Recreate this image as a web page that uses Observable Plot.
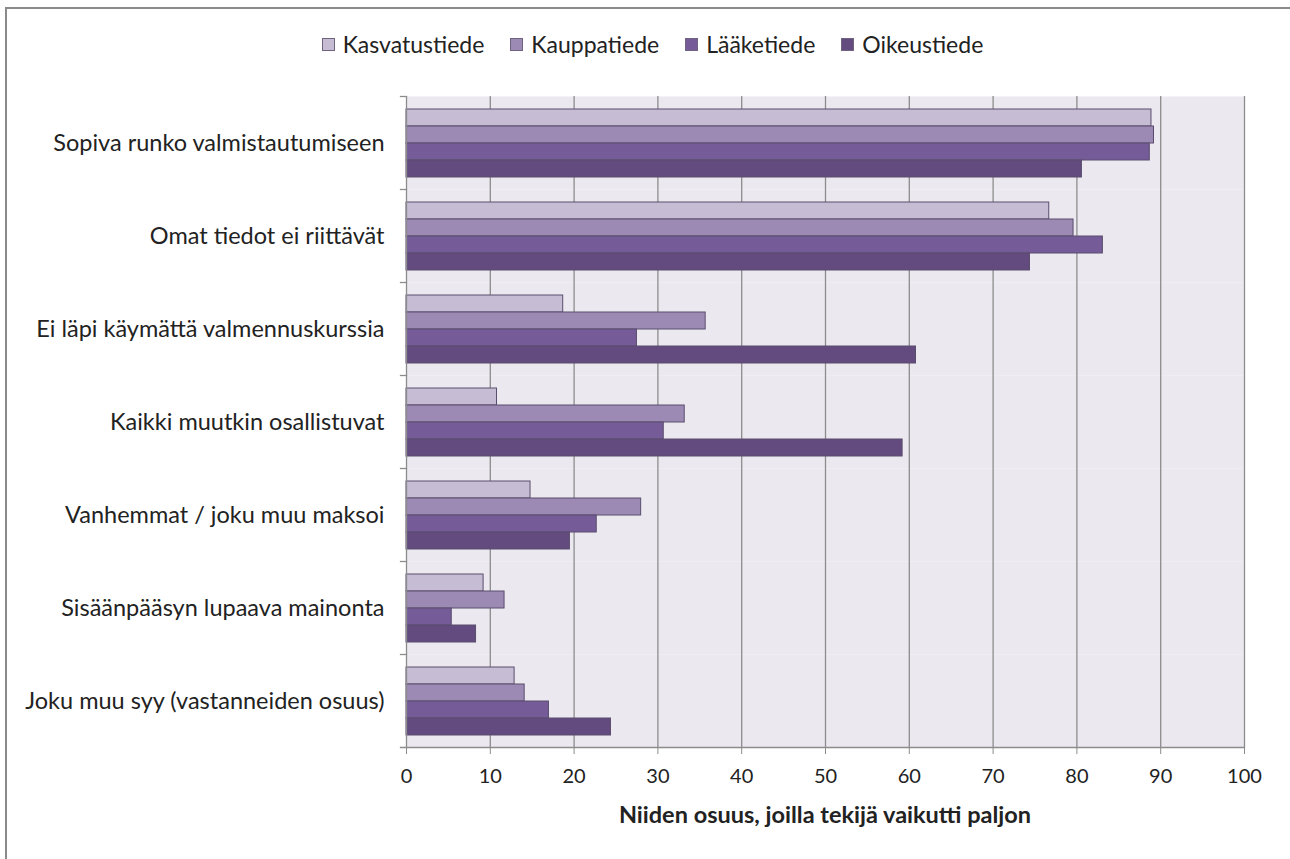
<!DOCTYPE html>
<html>
<head>
<meta charset="utf-8">
<script src="https://cdn.jsdelivr.net/npm/d3@7"></script>
<script src="https://cdn.jsdelivr.net/npm/@observablehq/plot@0.6"></script>
<style>
  html, body { margin: 0; padding: 0; background: #fff; }
  #wrap { position: relative; width: 1290px; height: 859px; overflow: hidden; font-family: Lato, "Open Sans", sans-serif; color: #222; }
  #border { position: absolute; left: 5px; top: 7px; width: 1300px; height: 870px; border-left: 2px solid #8a8a8a; border-top: 2px solid #8a8a8a; }
  #legend { position: absolute; top: 30px; left: 0; width: 1305px; display: flex; justify-content: center; gap: 26px; font-size: 23px; }
  #legend .item { display: flex; align-items: center; gap: 8px; }
  #legend .sw { width: 13px; height: 13px; border: 1px solid #6f6480; box-sizing: border-box; }
  #chart { position: absolute; left: 0; top: 80px; }
  #xlabel { position: absolute; top: 800px; left: 0; width: 1650px; text-align: center; font-weight: bold; font-size: 23.5px; }
</style>
</head>
<body>
<div id="wrap">
  <div id="border"></div>
  <div id="legend"></div>
  <div id="chart"></div>
  <div id="xlabel"></div>
</div>
<script>
const categories = [
  "Sopiva runko valmistautumiseen",
  "Omat tiedot ei riittävät",
  "Ei läpi käymättä valmennuskurssia",
  "Kaikki muutkin osallistuvat",
  "Vanhemmat / joku muu maksoi",
  "Sisäänpääsyn lupaava mainonta",
  "Joku muu syy (vastanneiden osuus)"
];
const series = ["Kasvatustiede", "Kauppatiede", "Lääketiede", "Oikeustiede"];
const kasvatustiede = [88.9, 76.7, 18.7, 10.8, 14.8, 9.2, 12.9];
const kauppatiede   = [89.2, 79.6, 35.7, 33.2, 28.0, 11.7, 14.1];
const laaketiede    = [88.7, 83.1, 27.5, 30.7, 22.7, 5.4, 17.0];
const oikeustiede   = [80.6, 74.4, 60.8, 59.2, 19.5, 8.3, 24.4];
const xTicks = [0, 10, 20, 30, 40, 50, 60, 70, 80, 90, 100];
const xLabel = "Niiden osuus, joilla tekijä vaikutti paljon";
const colors = ["#c6bcd3", "#9c89b4", "#765b99", "#634a7f"];

const valuesBySeries = [kasvatustiede, kauppatiede, laaketiede, oikeustiede];
const data = [];
categories.forEach((c, i) => {
  series.forEach((s, j) => data.push({category: c, series: s, value: valuesBySeries[j][i]}));
});

// legend
const legend = document.getElementById("legend");
series.forEach((s, j) => {
  const it = document.createElement("div");
  it.className = "item";
  const sw = document.createElement("span");
  sw.className = "sw";
  sw.style.background = colors[j];
  const t = document.createElement("span");
  t.textContent = s;
  it.appendChild(sw); it.appendChild(t);
  legend.appendChild(it);
});
document.getElementById("xlabel").textContent = xLabel;

const W = 1290, ML = 406, MR = 46;
const plotW = W - ML - MR;
const last = categories[categories.length - 1];

const chart = Plot.plot({
  width: W,
  height: 713,
  marginLeft: ML,
  marginRight: MR,
  marginTop: 15,
  marginBottom: 45,
  style: {fontFamily: "Lato, 'Open Sans', sans-serif", background: "transparent", color: "#222"},
  x: {domain: [0, 100], ticks: xTicks, axis: null},
  y: {domain: series, paddingInner: 0, paddingOuter: 0.7, axis: null},
  fy: {domain: categories, padding: 0, axis: null},
  color: {domain: series, range: colors},
  marks: [
    Plot.frame({fill: "#ebe8ef", stroke: null}),
    Plot.gridX(xTicks.slice(1), {stroke: "#8c8c8c", strokeOpacity: 1, strokeWidth: 1.3}),
    Plot.barX(data, {fy: "category", y: "series", x: "value", fill: "series", stroke: "#5a4e6e", strokeWidth: 1}),
    Plot.ruleX([0], {stroke: "#8c8c8c", strokeWidth: 1.3}),
    Plot.frame({anchor: "top", stroke: "#8c8c8c", strokeWidth: 1.3, insetLeft: -6, insetRight: plotW}),
    Plot.frame({anchor: "bottom", stroke: "#8c8c8c", strokeWidth: 1.3, insetLeft: -6, fy: [last]}),
    Plot.axisFy({anchor: "left", tickSize: 0, tickPadding: 22, label: null, fontSize: 23.5, fill: "#222"}),
    Plot.axisX(xTicks, {anchor: "bottom", tickSize: 7, tickPadding: 14, fontSize: 20, label: null, stroke: "#8c8c8c", fill: "#222", facetAnchor: "bottom"})
  ]
});
document.getElementById("chart").appendChild(chart);
</script>
</body>
</html>
